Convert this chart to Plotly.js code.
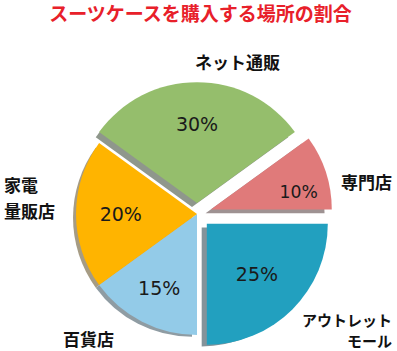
<!DOCTYPE html>
<html>
<head>
<meta charset="utf-8">
<script src="https://cdn.plot.ly/plotly-3.0.1.min.js"></script>
<style>html,body{margin:0;padding:0;background:#fff;}#chart{width:397px;height:351px;}</style>
</head>
<body>
<div id="chart"></div>
<script>
// Data (clockwise order starting at the upper-left edge of ネット通販)
var categories = ['ネット通販', '専門店', 'アウトレット<br>モール', '百貨店', '家電<br>量販店'];
var shares = [30, 10, 25, 15, 20];
var pulls = [0.09, 0.12, 0.115, 0, 0];
var titleText = 'スーツケースを購入する場所の割合';

// Styles
var sliceColors = ['#95BE6C', '#E07A7A', '#22A0BF', '#93CBE8', '#FFB400'];
var shadowColors = ['#8f978c', '#9e9292', '#84939a', '#8f9ca3', '#a69c84'];
var FONT = '"Noto Sans CJK JP", "Noto Sans", sans-serif';
var NUMFONT = '"DejaVu Sans", "Noto Sans", sans-serif';
// per-slice text templates (blank lines nudge the visible label within its slice)
var pctTemplates = ['%{value}%<br> ', ' <br>%{value}%', '%{value}%', '%{value}%', '%{value}%'];

var dom = {x: [0.1549, 0.8375], y: [0.0043, 0.7763]};
var sdx = -5 / 397, sdy = -6 / 351;

var shadow = {
  type: 'pie', labels: categories, values: shares, pull: pulls,
  sort: false, direction: 'clockwise', rotation: -54,
  marker: {colors: shadowColors, line: {width: 0}},
  textinfo: 'none', hoverinfo: 'skip', showlegend: false,
  domain: {x: [dom.x[0] + sdx, dom.x[1] + sdx], y: [dom.y[0] + sdy, dom.y[1] + sdy]}
};
var main = {
  type: 'pie', labels: categories, values: shares, pull: pulls,
  sort: false, direction: 'clockwise', rotation: -54,
  marker: {colors: sliceColors, line: {width: 0}},
  textinfo: 'percent', textposition: 'inside', insidetextorientation: 'horizontal',
  texttemplate: pctTemplates,
  textfont: {family: NUMFONT, size: 19, color: '#1a1a1a'},
  hoverinfo: 'skip', showlegend: false,
  domain: dom
};

// Outside category labels: one annotation per text line (placement in px)
var linePos = [
  [{x: 237, y: 62, xa: 'center', size: 17}],
  [{x: 339, y: 181, xa: 'left', size: 17}],
  [{x: 394, y: 319, xa: 'right', size: 15}, {x: 394, y: 340, xa: 'right', size: 15}],
  [{x: 88, y: 338, xa: 'center', size: 17}],
  [{x: 2, y: 184, xa: 'left', size: 17}, {x: 2, y: 210, xa: 'left', size: 17}]
];
var annotations = [];
categories.forEach(function (c, i) {
  c.split('<br>').forEach(function (line, j) {
    var p = linePos[i][j];
    annotations.push({
      text: '<b>' + line + '</b>', xref: 'paper', yref: 'paper',
      x: p.x / 397, y: 1 - p.y / 351, xanchor: p.xa, yanchor: 'middle',
      showarrow: false, font: {family: FONT, size: p.size, color: '#111'}
    });
  });
});

var layout = {
  width: 397, height: 351,
  margin: {l: 0, r: 0, t: 0, b: 0},
  paper_bgcolor: '#fff',
  title: {text: '<b>' + titleText + '</b>', font: {family: FONT, size: 19, color: '#E8202A'},
          x: 0.505, xanchor: 'center', y: 1 - 14 / 351, yanchor: 'middle', yref: 'container'},
  annotations: annotations,
  showlegend: false
};
Plotly.newPlot('chart', [shadow, main], layout, {displayModeBar: false, staticPlot: true});
</script>
</body>
</html>
